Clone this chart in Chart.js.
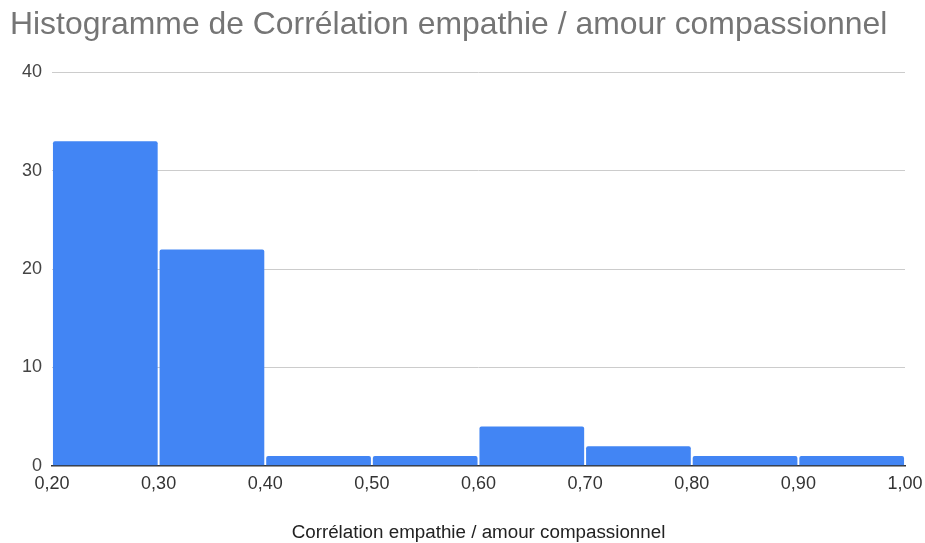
<!DOCTYPE html>
<html>
<head>
<meta charset="utf-8">
<script src="https://cdn.jsdelivr.net/npm/chart.js@4"></script>
<style>
html,body{margin:0;padding:0;background:#fff;}
#wrap{width:925px;height:543px;position:relative;}
</style>
</head>
<body>
<div id="wrap"><canvas id="c"></canvas></div>
<script>
const title = "Histogramme de Corrélation empathie / amour compassionnel";
const xTitle = "Corrélation empathie / amour compassionnel";
const binStarts = [0.20, 0.30, 0.40, 0.50, 0.60, 0.70, 0.80, 0.90];
const binWidth = 0.10;
const counts = [33, 22, 1, 1, 4, 2, 1, 1];
const yTicks = [0, 10, 20, 30, 40];

const data = binStarts.map((s, i) => ({x: s + binWidth / 2, y: counts[i]}));

new Chart(document.getElementById('c'), {
  type: 'bar',
  data: {
    datasets: [{
      data: data,
      backgroundColor: '#4285F4',
      borderRadius: {topLeft: 2, topRight: 2, bottomLeft: 0, bottomRight: 0},
      borderSkipped: false,
      barPercentage: 0.982,
      categoryPercentage: 1.0
    }]
  },
  options: {
    responsive: true,
    maintainAspectRatio: false,
    animation: false,
    layout: {padding: {left: 10, right: 20, top: 4, bottom: -1}},
    plugins: {
      legend: {display: false},
      tooltip: {enabled: false},
      title: {
        display: true,
        text: title,
        align: 'start',
        color: '#757575',
        font: {family: 'Liberation Sans, Arial, sans-serif', size: 31.9, weight: 'normal'},
        padding: {top: 2, bottom: 28}
      }
    },
    scales: {
      x: {
        type: 'linear',
        min: 0.2,
        max: 1.0,
        offset: false,
        grid: {display: false, drawTicks: false},
        border: {display: true, color: '#333333', width: 1.5},
        ticks: {
          stepSize: 0.1,
          color: '#333333',
          padding: 7,
          font: {family: 'Liberation Sans, Arial, sans-serif', size: 18},
          callback: v => Number(v).toFixed(2).replace('.', ',')
        },
        afterBuildTicks: axis => { axis.ticks = [0.2,0.3,0.4,0.5,0.6,0.7,0.8,0.9,1.0].map(v => ({value: v})); },
        afterFit: axis => { axis.paddingLeft = 0; axis.paddingRight = 0; },
        title: {
          display: true,
          text: xTitle,
          color: '#222222',
          font: {family: 'Liberation Sans, Arial, sans-serif', size: 18.8},
          padding: {top: 20, bottom: 0}
        }
      },
      y: {
        min: 0,
        max: 40,
        grid: {color: '#cccccc', drawTicks: false, lineWidth: 1},
        border: {display: false},
        ticks: {
          stepSize: 10,
          color: '#444444',
          padding: 10,
          font: {family: 'Liberation Sans, Arial, sans-serif', size: 18},
        },
        afterBuildTicks: axis => { axis.ticks = yTicks.map(v => ({value: v})); },
        afterFit: axis => { axis.width = 42; }
      }
    }
  }
});
</script>
</body>
</html>
